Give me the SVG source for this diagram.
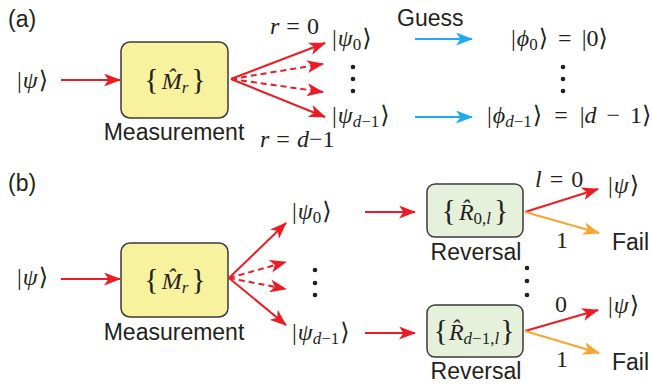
<svg xmlns="http://www.w3.org/2000/svg" width="652" height="388" viewBox="0 0 652 388">
<style>
.sans{font-family:"Liberation Sans",Arial,sans-serif;fill:#231f20}
.m{font-family:"Liberation Serif","DejaVu Serif",serif;font-size:24px;fill:#231f20}
.i{font-style:italic}
.sub{font-size:17px}
.red{stroke:#ec1c24;stroke-width:2;fill:none}
.blue{stroke:#1eaaf1;stroke-width:2;fill:none}
.org{stroke:#f9a532;stroke-width:2;fill:none}
.dash{stroke-dasharray:6,4}
.ybox{fill:#f8f19d;stroke:#3a3a3a;stroke-width:1.5}
.gbox{fill:#e6f1db;stroke:#3a3a3a;stroke-width:1.5}
.dot{fill:#231f20}
</style>
<defs>
<marker id="ar" markerUnits="userSpaceOnUse" markerWidth="17" markerHeight="13" refX="16" refY="6.5" orient="auto"><path d="M0,0 L17,6.5 L0,13 L4.5,6.5 z" fill="#ec1c24"/></marker>
<marker id="ab" markerUnits="userSpaceOnUse" markerWidth="17" markerHeight="13" refX="16" refY="6.5" orient="auto"><path d="M0,0 L17,6.5 L0,13 L4.5,6.5 z" fill="#1eaaf1"/></marker>
<marker id="ao" markerUnits="userSpaceOnUse" markerWidth="17" markerHeight="13" refX="16" refY="6.5" orient="auto"><path d="M0,0 L17,6.5 L0,13 L4.5,6.5 z" fill="#f9a532"/></marker>
</defs>

<text class="sans" x="8" y="27" font-size="23">(a)</text>
<text class="sans" x="8" y="191" font-size="23">(b)</text>

<g id="a-input"><text class="m" x="17" y="88">|<tspan class="i" dx="1">ψ</tspan><tspan dx="1">⟩</tspan></text></g>
<g id="a-measure">
<rect class="ybox" x="121" y="42" width="107" height="76" rx="9"/>
<text class="m" x="175" y="89" text-anchor="middle"><tspan font-size="30">{</tspan><tspan class="i" dx="3">M̂</tspan><tspan class="i sub" dy="4">r</tspan><tspan font-size="30" dy="-4" dx="3">}</tspan></text>
<text class="sans" x="174" y="140" font-size="23" text-anchor="middle">Measurement</text>
</g>
<g id="a-labels">
<text class="m" x="270" y="34"><tspan class="i">r</tspan><tspan dx="7">=</tspan><tspan dx="7">0</tspan></text>
<text class="m" x="260" y="147"><tspan class="i">r</tspan><tspan dx="7">=</tspan><tspan class="i" dx="7">d</tspan>−1</text>
</g>
<g id="a-psi0"><text class="m" x="332" y="46">|<tspan class="i" dx="1">ψ</tspan><tspan class="sub" dy="4">0</tspan><tspan dy="-4" dx="1">⟩</tspan></text></g>
<g id="a-psid"><text class="m" x="332" y="123">|<tspan class="i" dx="1">ψ</tspan><tspan class="sub" dy="4"><tspan class="i">d</tspan>−1</tspan><tspan dy="-4" dx="1">⟩</tspan></text></g>
<g id="a-dots1"><circle class="dot" cx="353" cy="67" r="2.3"/><circle class="dot" cx="353" cy="79" r="2.3"/><circle class="dot" cx="353" cy="91" r="2.3"/></g>
<g id="a-guess"><text class="sans" x="397" y="26" font-size="23">Guess</text></g>
<g id="a-phi0"><text class="m" x="511" y="46">|<tspan class="i" dx="1">ϕ</tspan><tspan class="sub" dy="4">0</tspan><tspan dy="-4" dx="1">⟩</tspan><tspan dx="10">=</tspan><tspan dx="10">|0⟩</tspan></text></g>
<g id="a-phid"><text class="m" x="487" y="123">|<tspan class="i" dx="1">ϕ</tspan><tspan class="sub" dy="4"><tspan class="i">d</tspan>−1</tspan><tspan dy="-4" dx="1">⟩</tspan><tspan dx="12">=</tspan><tspan dx="12">|</tspan><tspan class="i">d</tspan><tspan dx="10">−</tspan><tspan dx="10">1⟩</tspan></text></g>
<g id="a-dots2"><circle class="dot" cx="563" cy="67" r="2.3"/><circle class="dot" cx="563" cy="79" r="2.3"/><circle class="dot" cx="563" cy="91" r="2.3"/></g>

<g id="b-input"><text class="m" x="17" y="285">|<tspan class="i" dx="1">ψ</tspan><tspan dx="1">⟩</tspan></text></g>
<g id="b-measure">
<rect class="ybox" x="121" y="243" width="107" height="74" rx="9"/>
<text class="m" x="175" y="289" text-anchor="middle"><tspan font-size="30">{</tspan><tspan class="i" dx="3">M̂</tspan><tspan class="i sub" dy="4">r</tspan><tspan font-size="30" dy="-4" dx="3">}</tspan></text>
<text class="sans" x="174" y="340" font-size="23" text-anchor="middle">Measurement</text>
</g>
<g id="b-psi0"><text class="m" x="292" y="219">|<tspan class="i" dx="1">ψ</tspan><tspan class="sub" dy="4">0</tspan><tspan dy="-4" dx="1">⟩</tspan></text></g>
<g id="b-psid"><text class="m" x="292" y="340">|<tspan class="i" dx="1">ψ</tspan><tspan class="sub" dy="4"><tspan class="i">d</tspan>−1</tspan><tspan dy="-4" dx="1">⟩</tspan></text></g>
<g id="b-dots1"><circle class="dot" cx="315" cy="270" r="2.3"/><circle class="dot" cx="315" cy="283" r="2.3"/><circle class="dot" cx="315" cy="295" r="2.3"/></g>
<g id="b-rev0">
<rect class="gbox" x="427" y="184" width="96" height="53" rx="8"/>
<text class="m" x="475" y="220" text-anchor="middle"><tspan font-size="30">{</tspan><tspan class="i" dx="3">R̂</tspan><tspan class="sub" dy="4">0,<tspan class="i">l</tspan></tspan><tspan font-size="30" dy="-4" dx="3">}</tspan></text>
<text class="sans" x="476" y="260" font-size="23" text-anchor="middle">Reversal</text>
</g>
<g id="b-revd">
<rect class="gbox" x="427" y="305" width="96" height="52" rx="8"/>
<text class="m" x="474" y="340" text-anchor="middle"><tspan font-size="30">{</tspan><tspan class="i" dx="1">R̂</tspan><tspan class="sub" dy="4"><tspan class="i">d</tspan>−1,<tspan class="i">l</tspan></tspan><tspan font-size="30" dy="-4" dx="1">}</tspan></text>
<text class="sans" x="476" y="379" font-size="23" text-anchor="middle">Reversal</text>
</g>
<g id="b-dots2"><circle class="dot" cx="527" cy="268" r="2.3"/><circle class="dot" cx="527" cy="281" r="2.3"/><circle class="dot" cx="527" cy="295" r="2.3"/></g>
<g id="b-labels">
<text class="m" x="535" y="187"><tspan class="i">l</tspan><tspan dx="8">=</tspan><tspan dx="8">0</tspan></text>
<text class="m" x="556" y="248">1</text>
<text class="m" x="555" y="312">0</text>
<text class="m" x="556" y="367">1</text>
</g>
<g id="b-out0"><text class="m" x="608" y="193">|<tspan class="i" dx="1">ψ</tspan><tspan dx="1">⟩</tspan></text></g>
<g id="b-fail0"><text class="sans" x="612" y="250" font-size="23">Fail</text></g>
<g id="b-outd"><text class="m" x="608" y="313">|<tspan class="i" dx="1">ψ</tspan><tspan dx="1">⟩</tspan></text></g>
<g id="b-faild"><text class="sans" x="612" y="370" font-size="23">Fail</text></g>

<g id="connectors">
<line class="red" x1="61" y1="80" x2="120" y2="80" marker-end="url(#ar)"/>
<line class="red" x1="231" y1="79" x2="325" y2="43" marker-end="url(#ar)"/>
<line class="red dash" x1="231" y1="79" x2="323" y2="64" marker-end="url(#ar)"/>
<line class="red dash" x1="231" y1="79" x2="323" y2="92" marker-end="url(#ar)"/>
<line class="red" x1="231" y1="79" x2="325" y2="117" marker-end="url(#ar)"/>
<line class="blue" x1="415" y1="39" x2="472" y2="39" marker-end="url(#ab)"/>
<line class="blue" x1="415" y1="117" x2="472" y2="117" marker-end="url(#ab)"/>
<line class="red" x1="61" y1="279" x2="120" y2="279" marker-end="url(#ar)"/>
<line class="red" x1="229" y1="278" x2="286" y2="223" marker-end="url(#ar)"/>
<line class="red dash" x1="229" y1="278" x2="286" y2="262" marker-end="url(#ar)"/>
<line class="red dash" x1="229" y1="278" x2="286" y2="289" marker-end="url(#ar)"/>
<line class="red" x1="229" y1="278" x2="286" y2="325" marker-end="url(#ar)"/>
<line class="red" x1="365" y1="212" x2="415" y2="212" marker-end="url(#ar)"/>
<line class="red" x1="365" y1="333" x2="415" y2="333" marker-end="url(#ar)"/>
<line class="red" x1="525" y1="212" x2="598" y2="189" marker-end="url(#ar)"/>
<line class="org" x1="525" y1="212" x2="599" y2="233" marker-end="url(#ao)"/>
<line class="red" x1="525" y1="331" x2="598" y2="310" marker-end="url(#ar)"/>
<line class="org" x1="525" y1="331" x2="599" y2="353" marker-end="url(#ao)"/>
</g>
</svg>
